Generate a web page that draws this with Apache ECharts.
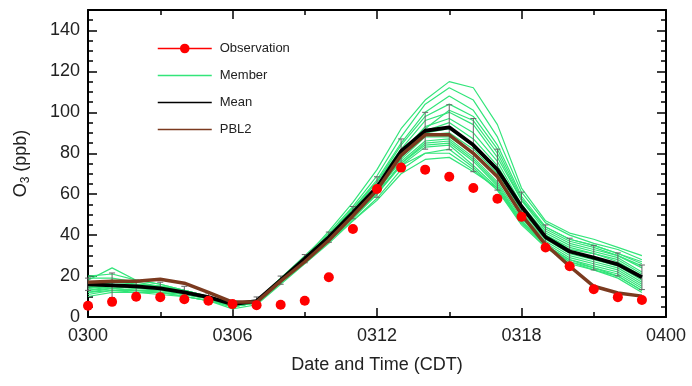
<!DOCTYPE html>
<html><head><meta charset="utf-8">
<script src="https://cdn.jsdelivr.net/npm/echarts@6/dist/echarts.min.js"></script>
<style>html,body{margin:0;padding:0;background:#fff}#c{width:692px;height:386px}</style>
</head><body><div id="c"></div>
<script>
// ---------- data ----------
const hours = [0,1,2,3,4,5,6,7,8,9,10,11,12,13,14,15,16,17,18,19,20,21,22,23];
const xTickLabels = {0:'0300', 6:'0306', 12:'0312', 18:'0318', 24:'0400'};
const observation = [5.5,7.4,9.9,9.7,8.7,7.9,6.3,5.8,6,7.9,19.4,43,62.5,73,72,68.5,63,57.8,49,34,24.8,13.6,9.7,8.3];
const meanVals = [16,15.5,15,14,12,9.7,6.3,7.8,18,28.5,39,51,63.5,81,91,92.7,84,72,54,39,32,29,25.7,19.4];
const errHalf  = [3,6,3,3,3,2,1.5,2,2,2,2.5,3,5,6,9,11,13,10,7,6,6.5,6,5.6,6];
const pbl2 = [17,17.5,17.5,18.4,16.5,12,7.3,7.3,17.5,27,37.5,49.5,62,79,89,89,80,68.5,50,35.4,24.8,15,11.7,10.2];
const m1  = [14,16,15,14,12,9,5,7,18,29,42,56,72,92,106,115,112,94,63,47,41,38,34,30];
const m2  = [18,24,18,16,13,10,6,8,19,30,41,54,69,88,104,112,106,88,61,46,40,36,33,28];
const m3  = [12,14,13,12,10,8,5,7,17,28,40,53,67,85,100,108,101,84,59,44,38,35,31,27];
const m4  = [16,18,16,15,12,10,6,8,18,29,40,53,66,84,98,104,98,82,58,43,37,34,30,25];
const m5  = [20,21,18,16,13,10,6,8,18,29,40,52,66,82,96,100,94,78,57,42,36,33,30,24];
const m6  = [15,17,16,15,13,10,6,7,18,28,39,51,64,80,93,97,90,76,55,41,35,32,29,22];
const m7  = [13,15,15,14,12,9,5,7,17,28,39,51,63,79,91,95,87,74,54,40,34,31,28,21];
const m8  = [17,16,16,15,13,10,6,8,18,29,39,50,62,78,90,92,84,71,52,40,33,31,27,20];
const m9  = [11,13,13,13,11,9,5,7,17,27,38,50,62,78,89,90,82,70,51,39,32,29,26,19];
const m10 = [15,14,15,14,12,10,6,8,18,28,38,50,61,77,88,88,80,68,50,38,31,28,25,18];
const m11 = [19,19,17,15,13,10,7,8,19,29,39,51,62,76,86,87,78,66,48,37,30,27,24,17];
const m12 = [14,15,14,13,11,9,5,7,17,27,38,49,60,75,85,86,77,65,47,36,29,26,23,16];
const m13 = [12,13,12,12,10,8,5,7,17,27,37,48,60,75,84,85,76,64,47,35,28,25,22,15];
const m14 = [16,15,14,14,12,9,6,7,18,28,38,49,61,74,83,84,74,63,46,35,28,24,21,14];
const m15 = [10,12,12,11,10,8,4,6,16,26,36,47,58,72,80,82,73,62,45,34,27,24,20,13];
const m16 = [17,16,15,14,12,9,6,7,17,28,38,49,60,74,80,80,72,62,46,34,26,23,20,13];
const m17 = [13,14,13,12,11,9,5,7,17,27,37,47,57,70,77,78,71,63,47,35,27,23,19,12];
const m18 = [15,16,15,14,12,10,6,8,18,28,38,50,62,78,92,101,96,80,57,44,38,35,31,26];
const members = [m1,m2,m3,m4,m5,m6,m7,m8,m9,m10,m11,m12,m13,m14,m15,m16,m17,m18];

// ---------- chart ----------
const FONT = 'Liberation Sans, Arial, Helvetica, sans-serif';
const zip = arr => hours.map((h,i)=>[h, arr[i]]);
const memberColor = '#33e57a';

const series = [];
members.forEach(m => series.push({
  type:'line', name:'Member', data: zip(m), symbol:'none',
  lineStyle:{color:memberColor, width:1.2}, itemStyle:{color:memberColor}, z:2, silent:true
}));
series.push({
  type:'custom', name:'err', z:3, silent:true,
  data: hours.map((h,i)=>[h, meanVals[i]-errHalf[i], meanVals[i]+errHalf[i]]),
  encode:{x:0, y:[1,2]},
  renderItem(params, api){
    const x = api.value(0);
    const lo = api.coord([x, api.value(1)]);
    const hi = api.coord([x, api.value(2)]);
    const w = 3;
    const st = {stroke:'#666', lineWidth:1};
    return {type:'group', children:[
      {type:'line', shape:{x1:lo[0],y1:lo[1],x2:hi[0],y2:hi[1]}, style:st},
      {type:'line', shape:{x1:lo[0]-w,y1:lo[1],x2:lo[0]+w,y2:lo[1]}, style:st},
      {type:'line', shape:{x1:hi[0]-w,y1:hi[1],x2:hi[0]+w,y2:hi[1]}, style:st}
    ]};
  }
});
series.push({type:'line', name:'Mean', data: zip(meanVals), symbol:'none',
  lineStyle:{color:'#000', width:3.8}, itemStyle:{color:'#000'}, z:4});
series.push({type:'line', name:'PBL2', data: zip(pbl2), symbol:'none',
  lineStyle:{color:'#7b3a1f', width:3.5}, itemStyle:{color:'#7b3a1f'}, z:5});
series.push({type:'line', name:'Observation', data: zip(observation), symbol:'circle', symbolSize:10,
  showAllSymbol:true,
  lineStyle:{width:0, opacity:0, color:'#ff0000'}, itemStyle:{color:'#ff0000'}, z:6});

const axisLine = {show:true, onZero:false, lineStyle:{color:'#000', width:2}};
const xCommon = {type:'value', min:0, max:24, interval:6,
  axisLine, splitLine:{show:false},
  axisTick:{show:true, inside:true, length:9, lineStyle:{color:'#000', width:1.5}},
  minorTick:{show:true, splitNumber:2, length:5, lineStyle:{color:'#000', width:1.5}},
  minorSplitLine:{show:false}};
const yCommon = {type:'value', min:0, max:150, interval:20,
  axisLine, splitLine:{show:false},
  axisTick:{show:true, inside:true, length:9, lineStyle:{color:'#000', width:1.5}},
  minorTick:{show:true, splitNumber:4, length:5, lineStyle:{color:'#000', width:1.5}},
  minorSplitLine:{show:false}};

const chart = echarts.init(document.getElementById('c'));
chart.setOption({
  animation:false,
  backgroundColor:'#fff',
  grid:{left:88, right:26, top:10, bottom:69},
  legend:{
    orient:'vertical', left:152, top:37, itemWidth:54, itemHeight:12, itemGap:14,
    textStyle:{fontFamily:FONT, fontSize:13, color:'#222', padding:[0,0,0,3]},
    data:[
      {name:'Observation', lineStyle:{width:1.5, opacity:1, color:'#ff0000'}, itemStyle:{color:'#ff0000'}},
      {name:'Member', itemStyle:{opacity:0}, lineStyle:{width:1.5}},
      {name:'Mean', itemStyle:{opacity:0}, lineStyle:{width:1.5}},
      {name:'PBL2', itemStyle:{opacity:0}, lineStyle:{width:1.5}}
    ]
  },
  xAxis:[
    Object.assign({}, xCommon, {position:'bottom',
      name:'Date and Time (CDT)', nameLocation:'middle', nameGap:39,
      nameTextStyle:{fontFamily:FONT, fontSize:18, color:'#222'},
      axisLabel:{fontFamily:FONT, fontSize:18, color:'#222', margin:10,
        formatter: v => (xTickLabels[v] !== undefined ? xTickLabels[v] : '')}}),
    Object.assign({}, xCommon, {position:'top', axisLabel:{show:false}})
  ],
  yAxis:[
    Object.assign({}, yCommon, {position:'left',
      name:'O{sub|3} (ppb)', nameLocation:'middle', nameGap:56,
      nameTextStyle:{fontFamily:FONT, fontSize:18, color:'#222',
        rich:{sub:{fontFamily:FONT, fontSize:12, color:'#222', padding:[10,0,0,0]}}},
      axisLabel:{fontFamily:FONT, fontSize:18, color:'#222', margin:8,
        formatter: v => (v % 20 === 0 ? String(v) : '')}}),
    Object.assign({}, yCommon, {position:'right', axisLabel:{show:false}})
  ],
  series
});
</script>
</body></html>
